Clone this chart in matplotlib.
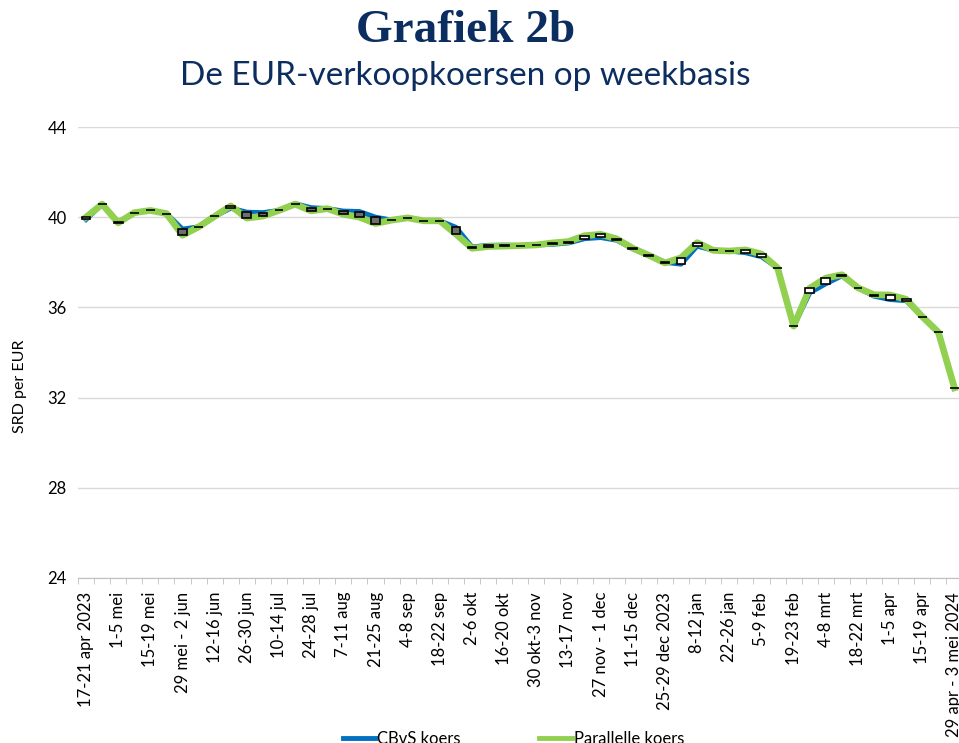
import matplotlib
matplotlib.use("Agg")
import matplotlib.pyplot as plt
import numpy as np

week_labels = [
    "17-21 apr 2023", "1-5 mei", "15-19 mei", "29 mei - 2 jun", "12-16 jun",
    "26-30 jun", "10-14 jul", "24-28 jul", "7-11 aug", "21-25 aug",
    "4-8 sep", "18-22 sep", "2-6 okt", "16-20 okt", "30 okt-3 nov",
    "13-17 nov", "27 nov - 1 dec", "11-15 dec", "25-29 dec 2023", "8-12 jan",
    "22-26 jan", "5-9 feb", "19-23 feb", "4-8 mrt", "18-22 mrt",
    "1-5 apr", "15-19 apr", "29 apr - 3 mei 2024",
]

cbvs = [
    39.90, 40.58, 39.78, 40.20, 40.30, 40.16, 39.47, 39.57, 40.04, 40.40,
    40.22, 40.20, 40.30, 40.60, 40.42, 40.38, 40.27, 40.25, 40.00, 39.87,
    39.97, 39.84, 39.84, 39.55, 38.68, 38.75, 38.76, 38.74, 38.77, 38.80,
    38.86, 39.05, 39.10, 38.98, 38.60, 38.30, 38.00, 37.92, 38.72, 38.53,
    38.50, 38.43, 38.25, 37.75, 35.17, 36.65, 37.05, 37.40, 36.87, 36.50,
    36.35, 36.30, 35.59, 34.90, 32.43,
]

parallel = [
    40.00, 40.58, 39.75, 40.20, 40.30, 40.16, 39.20, 39.57, 40.04, 40.50,
    39.96, 40.05, 40.30, 40.58, 40.28, 40.38, 40.13, 40.00, 39.72, 39.87,
    39.97, 39.84, 39.84, 39.25, 38.62, 38.70, 38.72, 38.74, 38.77, 38.86,
    38.92, 39.18, 39.24, 39.04, 38.62, 38.31, 37.97, 38.20, 38.87, 38.53,
    38.50, 38.55, 38.37, 37.75, 35.17, 36.85, 37.30, 37.45, 36.87, 36.56,
    36.55, 36.36, 35.59, 34.90, 32.43,
]

blue = "#0070C0"
green = "#92D050"
navy = "#0B2D5F"

x = np.arange(len(cbvs))
cb = np.array(cbvs)
pa = np.array(parallel)

fig = plt.figure(figsize=(9.59, 7.43), dpi=100)
ax = fig.add_axes([78 / 959, 165 / 743, 884.5 / 959, 451 / 743])

ax.plot(x, cb, color=blue, lw=3.6, zorder=3, solid_joinstyle="round")
ax.plot(x, pa, color=green, lw=4.8, zorder=4, solid_joinstyle="round")

# up/down bars between the two series
diff = pa - cb
faces = ["white" if d > 0 else "#6E6E6E" for d in diff]
ax.bar(x, diff, bottom=cb, width=0.55, color=faces, edgecolor="black",
       linewidth=1.2, zorder=5)

ax.set_xlim(-0.5, len(cbvs) - 0.5)
ax.set_ylim(24, 44)
ax.set_yticks([24, 28, 32, 36, 40, 44])
ax.grid(axis="y", color="#D9D9D9", lw=1)
ax.set_axisbelow(True)

ax.set_xticks(x[::2])
ax.set_xticklabels(week_labels, rotation=90, fontsize=12, family="Lato")
ax.set_xticks(np.arange(-0.5, len(cbvs), 1), minor=True)
ax.tick_params(axis="x", which="major", length=0, pad=10)
ax.tick_params(axis="x", which="minor", length=4, color="#BFBFBF")
ax.tick_params(axis="y", length=0, labelsize=12, pad=8)
for lab in ax.get_yticklabels():
    lab.set_family("Lato")

for s in ["top", "right", "left"]:
    ax.spines[s].set_visible(False)
ax.spines["bottom"].set_color("#BFBFBF")

fig.text(20 / 959, 357 / 743, "SRD per EUR", rotation=90, ha="center",
         va="center", fontsize=11.5, family="Lato")

fig.text(466 / 959, 712 / 743, "Grafiek 2b", ha="center", va="center",
         fontsize=34, fontweight="bold", family="Liberation Serif", color=navy)
fig.text(465 / 959, 667 / 743, "De EUR-verkoopkoersen op weekbasis",
         ha="center", va="center", fontsize=24, family="Lato", color=navy)

# legend at the bottom edge
fig.lines.append(plt.Line2D([343 / 959, 375 / 959], [5 / 743, 5 / 743],
                            transform=fig.transFigure, color=blue, lw=3.5))
fig.text(377 / 959, -4 / 743, "CBvS koers", fontsize=12, family="Lato",
         va="bottom")
fig.lines.append(plt.Line2D([539 / 959, 572 / 959], [5 / 743, 5 / 743],
                            transform=fig.transFigure, color=green, lw=3.5))
fig.text(574 / 959, -4 / 743, "Parallelle koers", fontsize=12, family="Lato",
         va="bottom")

fig.savefig("out.png", dpi=100)
